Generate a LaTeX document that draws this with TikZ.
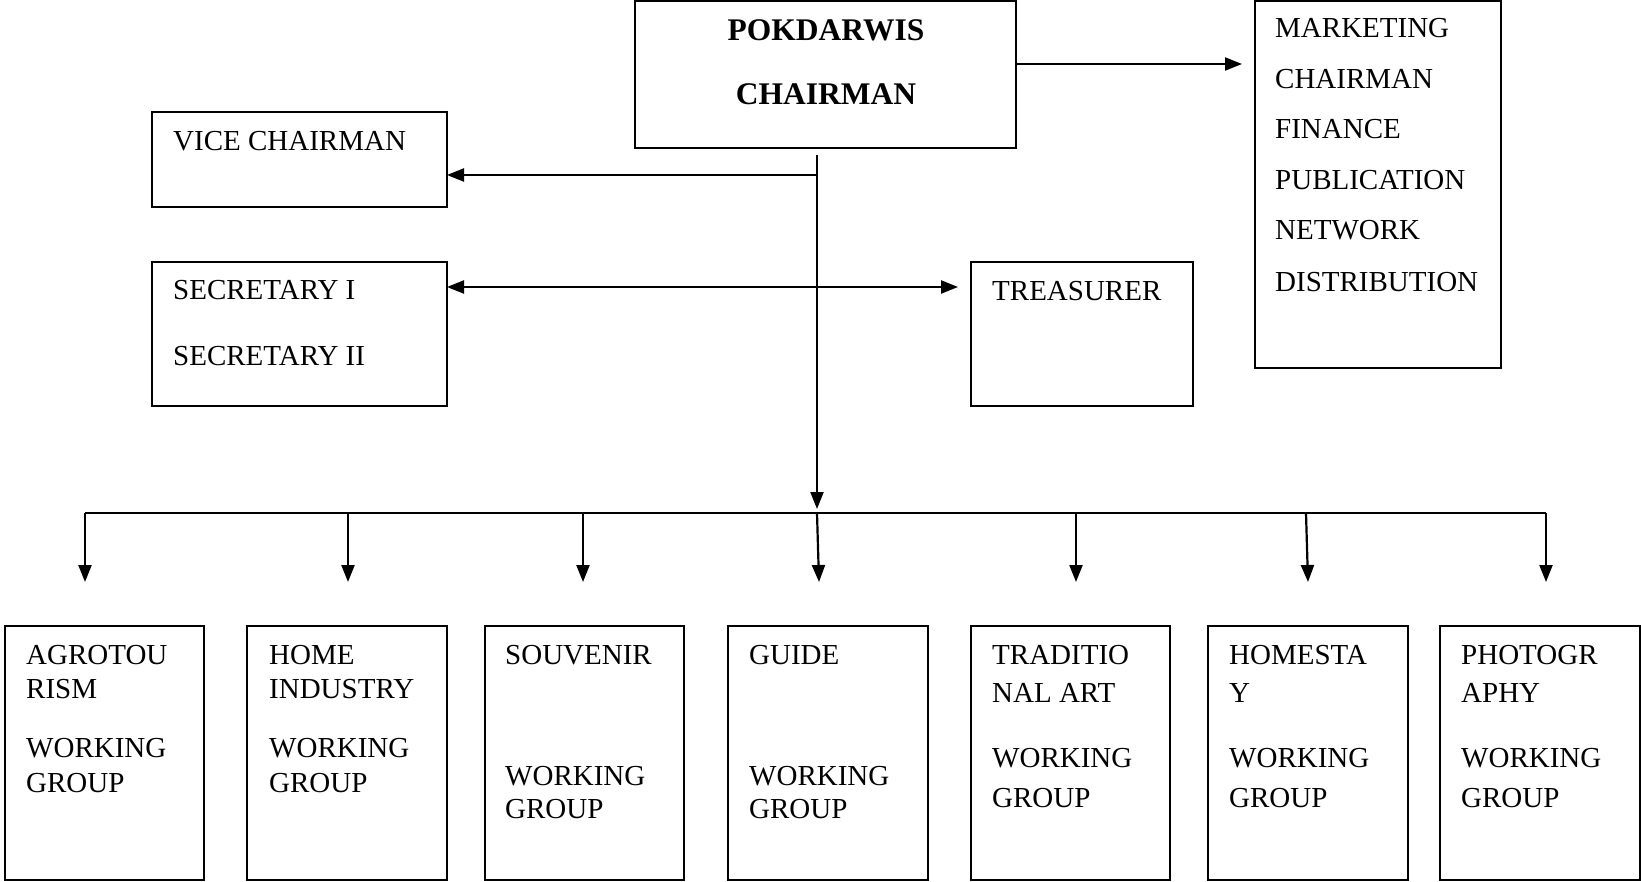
\documentclass[tikz,border=0pt]{standalone}
\usepackage{fontspec}
\setmainfont{Liberation Serif}
\usetikzlibrary{arrows.meta}
\tikzset{
  box/.style={draw, line width=2pt, rectangle, inner sep=0pt, outer sep=0pt, anchor=north west},
  txt/.style={anchor=base west, inner sep=0pt, font=\fontsize{29}{34}\selectfont},
  btxt/.style={anchor=base, inner sep=0pt, font=\bfseries\fontsize{31.5}{36}\selectfont},
  conn/.style={line width=2.2pt},
  arr/.style={line width=2.2pt, -{Triangle[length=17pt,width=13pt]}},
  darr/.style={line width=2.2pt, {Triangle[length=17pt,width=13pt]}-{Triangle[length=17pt,width=13pt]}},
}
\begin{document}
\begin{tikzpicture}[x=1pt,y=-1pt]
\useasboundingbox (0,0) rectangle (1641,882);
% top boxes
\node[box, minimum width=381pt, minimum height=147pt] (chair) at (635,1) {};
\node[btxt] (chairA) at (826,40.5) {POKDARWIS};
\node[btxt] (chairB) at (826,104.5) {CHAIRMAN};

\node[box, minimum width=246pt, minimum height=367pt] (mkt) at (1255,1) {};
\node[txt] (m1) at (1275,37.6) {MARKETING};
\node[txt] (m2) at (1275,88.1) {CHAIRMAN};
\node[txt] (m3) at (1275,138.6) {FINANCE};
\node[txt] (m4) at (1275,189.6) {PUBLICATION};
\node[txt] (m5) at (1275,239.6) {NETWORK};
\node[txt] (m6) at (1275,291.1) {DISTRIBUTION};

\node[box, minimum width=295pt, minimum height=95pt] (vice) at (152,112) {};
\node[txt] (viceT) at (173,150.6) {VICE CHAIRMAN};

\node[box, minimum width=295pt, minimum height=144pt] (sec) at (152,262) {};
\node[txt] (secA) at (173,299.6) {SECRETARY I};
\node[txt] (secB) at (173,365.6) {SECRETARY II};

\node[box, minimum width=222pt, minimum height=144pt] (tre) at (971,262) {};
\node[txt] (treT) at (992,300.6) {TREASURER};

% bottom boxes
\node[box, minimum width=199pt, minimum height=254pt] (b1) at (5,626) {};
\node[txt] (b1a) at (26,664.8) {AGROTOU};
\node[txt] (b1b) at (26,698.3) {RISM};
\node[txt] (b1c) at (26,757.9) {WORKING};
\node[txt] (b1d) at (26,792.5) {GROUP};

\node[box, minimum width=200pt, minimum height=254pt] (b2) at (247,626) {};
\node[txt] (b2a) at (269,664.8) {HOME};
\node[txt] (b2b) at (269,698.3) {INDUSTRY};
\node[txt] (b2c) at (269,757.9) {WORKING};
\node[txt] (b2d) at (269,792.5) {GROUP};

\node[box, minimum width=199pt, minimum height=254pt] (b3) at (485,626) {};
\node[txt] (b3a) at (505,664.8) {SOUVENIR};
\node[txt] (b3c) at (505,785.1) {WORKING};
\node[txt] (b3d) at (505,818.6) {GROUP};

\node[box, minimum width=200pt, minimum height=254pt] (b4) at (728,626) {};
\node[txt] (b4a) at (749,664.8) {GUIDE};
\node[txt] (b4c) at (749,785.1) {WORKING};
\node[txt] (b4d) at (749,818.6) {GROUP};

\node[box, minimum width=199pt, minimum height=254pt] (b5) at (971,626) {};
\node[txt] (b5a) at (992,664.8) {TRADITIO};
\node[txt] (b5b) at (992,702.5) {NAL ART};
\node[txt] (b5c) at (992,767.3) {WORKING};
\node[txt] (b5d) at (992,807.1) {GROUP};

\node[box, minimum width=200pt, minimum height=254pt] (b6) at (1208,626) {};
\node[txt] (b6a) at (1229,664.8) {HOMESTA};
\node[txt] (b6b) at (1229,702.5) {Y};
\node[txt] (b6c) at (1229,767.3) {WORKING};
\node[txt] (b6d) at (1229,807.1) {GROUP};

\node[box, minimum width=200pt, minimum height=254pt] (b7) at (1440,626) {};
\node[txt] (b7a) at (1461,664.8) {PHOTOGR};
\node[txt] (b7b) at (1461,702.5) {APHY};
\node[txt] (b7c) at (1461,767.3) {WORKING};
\node[txt] (b7d) at (1461,807.1) {GROUP};

% connectors
\coordinate (hub) at (817,155);
\coordinate (hubend) at (817,509);
\draw[arr] (hub) -- (hubend);

\coordinate (vj) at (817,175);
\draw[arr] (vj) -- (vj -| vice.east);

\coordinate (sj) at (958,287);
\draw[darr] (sj -| sec.east) -- (sj);

\coordinate (mj) at (1242,64);
\draw[arr] (mj -| chair.east) -- (mj);

\coordinate (bl) at (85,513);
\coordinate (br) at (1546,513);
\draw[conn] (bl) -- (br);
\foreach \i/\a/\b in {1/85/85, 2/348/348, 3/583/583, 4/817/819, 5/1076/1076, 6/1306/1308, 7/1546/1546}{
  \coordinate (d\i) at (\a,513);
  \coordinate (e\i) at (\b,582);
  \draw[arr] (d\i) -- (e\i);
}
\end{tikzpicture}
\end{document}
